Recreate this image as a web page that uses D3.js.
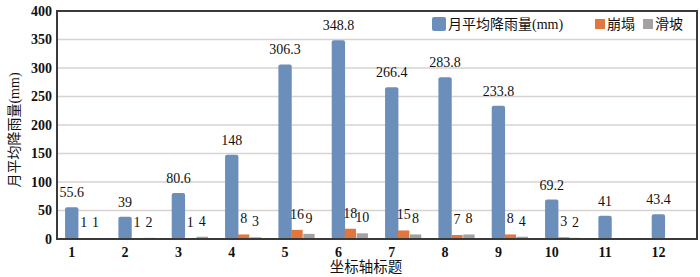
<!DOCTYPE html>
<html>
<head>
<meta charset="utf-8">
<script src="https://cdn.jsdelivr.net/npm/d3@7"></script>
<style>
    body { margin: 0; background: #fff; }
    text { font-family: 'Liberation Serif', 'Noto Sans CJK SC', serif; }
</style>
</head>
<body>
<div id="vis"></div>
<script>
// chart data
const months = ['1', '2', '3', '4', '5', '6', '7', '8', '9', '10', '11', '12'];
const rainfall = [55.6, 39, 80.6, 148, 306.3, 348.8, 266.4, 283.8, 233.8, 69.2, 41, 43.4];
const collapse = [1, 1, 1, 8, 16, 18, 15, 7, 8, 3, null, null];
const landslide = [1, 2, 4, 3, 9, 10, 8, 8, 4, 2, null, null];
const yTicks = [0, 50, 100, 150, 200, 250, 300, 350, 400];
const seriesNames = ['月平均降雨量(mm)', '崩塌', '滑坡'];

const colors = ['#6c8ebb', '#e2773e', '#a6a1a1'];

let dimensions = {
    width: 700,
    height: 277,
    margin: {
        top: 11,
        right: 3,
        bottom: 38,
        left: 57
    }
};
dimensions.boundedWidth =
dimensions.width - dimensions.margin.left - dimensions.margin.right;
dimensions.boundedHeight =
dimensions.height - dimensions.margin.top - dimensions.margin.bottom;

const wrapper = d3.select('#vis')
    .append('svg')
    .attr('width', dimensions.width)
    .attr('height', dimensions.height);

const bounds = wrapper.append('g')
    .attr('transform', `translate(${dimensions.margin.left},${dimensions.margin.top})`);

// scales
const x0 = d3.scaleBand()
    .domain(months)
    .range([0, dimensions.boundedWidth])
    .paddingInner(0.34)
    .paddingOuter(0.17);

const x1 = d3.scaleBand()
    .domain(d3.range(3))
    .range([0, x0.bandwidth()])
    .paddingInner(0.05);

const yScale = d3.scaleLinear()
    .domain([0, 400])
    .range([dimensions.boundedHeight, 0]);

// gridlines
bounds.append('g')
    .selectAll('line')
    .data(yTicks.slice(1, -1))
    .join('line')
    .attr('x1', 0)
    .attr('x2', dimensions.boundedWidth)
    .attr('y1', d => yScale(d))
    .attr('y2', d => yScale(d))
    .attr('stroke', '#d8d2d2')
    .attr('stroke-width', 1.5);

// build rows for the bars
const rows = months.map((m, i) => ({
    month: m,
    values: [rainfall[i], collapse[i], landslide[i]]
}));

const groups = bounds.selectAll('.group')
    .data(rows)
    .join('g')
    .attr('class', 'group')
    .attr('transform', d => `translate(${x0(d.month)},0)`);

groups.selectAll('rect')
    .data(d => d.values.map((v, k) => ({ v, k })).filter(e => e.v != null))
    .join('rect')
    .attr('x', d => x1(d.k) - (d.k === 0 ? 1 : 0))
    .attr('width', d => x1.bandwidth() + (d.k === 0 ? 2 : 0))
    .attr('y', d => yScale(d.v))
    .attr('height', d => yScale(0) - yScale(d.v))
    .attr('rx', d => d.k === 0 ? 2 : 0)
    .attr('fill', d => colors[d.k]);

// value labels
groups.selectAll('text.val')
    .data(d => d.values.map((v, k) => ({ v, k })).filter(e => e.v != null))
    .join('text')
    .attr('class', 'val')
    .attr('x', d => x1(d.k) + x1.bandwidth() / 2)
    .attr('y', d => yScale(d.v) - (d.k === 0 ? 10 : 11))
    .attr('text-anchor', 'middle')
    .style('font-size', '14px')
    .attr('fill', '#111')
    .text(d => d.v);

// axes
const yAxisGenerator = d3.axisLeft(yScale)
    .tickValues(yTicks)
    .tickSize(0)
    .tickPadding(5);

const yAxis = bounds.append('g').call(yAxisGenerator);
yAxis.select('.domain').remove();
yAxis.selectAll('text')
    .style('font-size', '14px')
    .style('font-weight', 'bold')
    .attr('fill', '#111');

const xAxisGenerator = d3.axisBottom(x0)
    .tickSize(0)
    .tickPadding(8);

const xAxis = bounds.append('g')
    .attr('transform', `translate(0,${dimensions.boundedHeight})`)
    .call(xAxisGenerator);
xAxis.select('.domain').remove();
xAxis.selectAll('text')
    .attr('x', x1(0) + x1.bandwidth() / 2 - x0.bandwidth() / 2)
    .style('font-size', '14px')
    .style('font-weight', 'bold')
    .attr('fill', '#111');

// frame
bounds.append('rect')
    .attr('x', 0)
    .attr('y', 0)
    .attr('width', dimensions.boundedWidth)
    .attr('height', dimensions.boundedHeight)
    .attr('fill', 'none')
    .attr('stroke', '#3a3a3a')
    .attr('stroke-width', 2);

// axis titles
wrapper.append('text')
    .attr('transform', 'translate(19,130) rotate(-90)')
    .attr('text-anchor', 'middle')
    .style('font-size', '14px')
    .attr('fill', '#111')
    .text(seriesNames[0]);

wrapper.append('text')
    .attr('x', 366)
    .attr('y', 272)
    .attr('text-anchor', 'middle')
    .style('font-size', '14.5px')
    .attr('fill', '#111')
    .text('坐标轴标题');

// legend
const legendItems = [
    { name: seriesNames[0], color: colors[0], x: 432, size: 14 },
    { name: seriesNames[1], color: colors[1], x: 595, size: 10 },
    { name: seriesNames[2], color: colors[2], x: 643, size: 10 }
];

const legend = wrapper.append('g');
const items = legend.selectAll('g')
    .data(legendItems)
    .join('g')
    .attr('transform', d => `translate(${d.x},24)`);

items.append('rect')
    .attr('x', 0)
    .attr('y', d => -d.size / 2)
    .attr('width', d => d.size)
    .attr('height', d => d.size)
    .attr('rx', d => d.size > 10 ? 2 : 0)
    .attr('fill', d => d.color);

items.append('text')
    .attr('x', d => d.size + 2)
    .attr('y', 5)
    .style('font-size', '14px')
    .attr('fill', '#111')
    .text(d => d.name);
</script>
</body>
</html>
